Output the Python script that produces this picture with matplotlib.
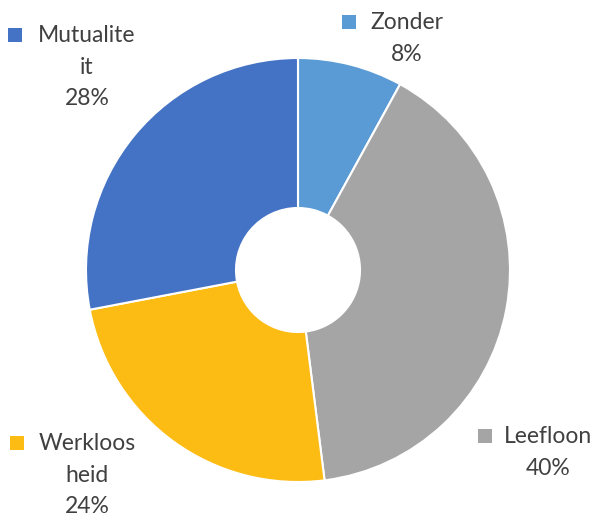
import matplotlib
matplotlib.use('Agg')
from matplotlib import pyplot as plt
from matplotlib.patches import Rectangle

# data
labels = ['Zonder', 'Leefloon', 'Werkloosheid', 'Mutualiteit']
values = [8, 40, 24, 28]
colors = ['#5B9BD5', '#A5A5A5', '#FCBC14', '#4472C4']
label_texts = ['Zonder\n8%', 'Leefloon\n40%', 'Werkloos\nheid\n24%', 'Mutualite\nit\n28%']

plt.rcParams['font.family'] = ['Lato', 'DejaVu Sans']

fig = plt.figure(figsize=(5.98, 5.18), dpi=100)
ax = fig.add_axes([0, 0, 1, 1])

# donut (y axis is flipped, so counterclock=True draws clockwise on screen)
ax.pie(values, colors=colors, startangle=-90, counterclock=True,
       center=(298, 270), radius=212, frame=True,
       wedgeprops=dict(width=150, edgecolor='white', linewidth=1.5))
ax.set_xlim(0, 598)
ax.set_ylim(518, 0)
ax.set_aspect('equal')
ax.axis('off')

# label positions: (marker x, marker y, text center x, first line y)
pos = [(342, 15, 407, 22), (478, 429, 548, 436), (10, 436, 87, 443), (8, 28, 87, 35)]
for (mx, my, tx, ty), txt, c in zip(pos, label_texts, colors):
    ax.add_patch(Rectangle((mx, my), 14, 14, facecolor=c, edgecolor='none'))
    ax.text(tx, ty - 10, txt, ha='center', va='top', fontsize=16.5,
            color='#404040', linespacing=1.62)

fig.savefig('out.png', dpi=100)
